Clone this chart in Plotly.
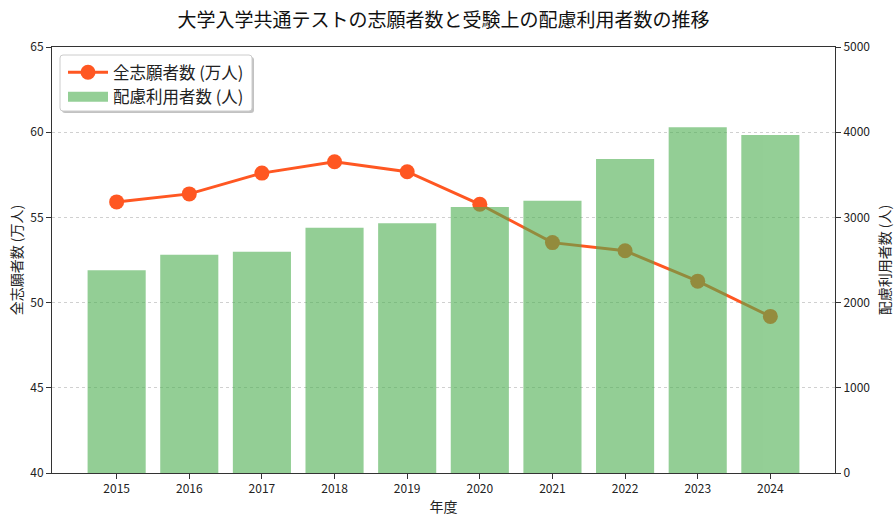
import plotly.graph_objects as go

years = [2015, 2016, 2017, 2018, 2019, 2020, 2021, 2022, 2023, 2024]
applicants_10k = [55.91, 56.38, 57.60, 58.27, 57.68, 55.77, 53.52, 53.04, 51.26, 49.19]
accommodation_users = [2379, 2562, 2598, 2879, 2930, 3122, 3196, 3685, 4057, 3967]

title_text = "大学入学共通テストの志願者数と受験上の配慮利用者数の推移"
line_name = "全志願者数 (万人)"
bar_name = "配慮利用者数 (人)"
x_title = "年度"
y1_title = "全志願者数 (万人)"
y2_title = "配慮利用者数 (人)"

FONT = "Noto Sans CJK JP"
W, H = 896, 523
L, R, T, B = 52, 61, 47, 50
pw = W - L - R
ph = H - T - B


def px_x(p):
    return (p - L) / pw


def px_y(p):
    return 1 - (p - T) / ph


def rounded_rect(x0, y0, x1, y1, r):
    # pixel coords -> paper-coord SVG path with rounded corners
    X = px_x
    Y = px_y
    return (
        f"M{X(x0 + r)},{Y(y0)} L{X(x1 - r)},{Y(y0)} Q{X(x1)},{Y(y0)} {X(x1)},{Y(y0 + r)} "
        f"L{X(x1)},{Y(y1 - r)} Q{X(x1)},{Y(y1)} {X(x1 - r)},{Y(y1)} "
        f"L{X(x0 + r)},{Y(y1)} Q{X(x0)},{Y(y1)} {X(x0)},{Y(y1 - r)} "
        f"L{X(x0)},{Y(y0 + r)} Q{X(x0)},{Y(y0)} {X(x0 + r)},{Y(y0)} Z"
    )


fig = go.Figure()
fig.add_trace(go.Scatter(
    x=years, y=applicants_10k, name=line_name, mode="lines+markers",
    line=dict(color="#FF5722", width=3),
    marker=dict(color="#FF5722", size=15),
    yaxis="y",
))
# legend entry for the bars (wide rectangle like the reference)
fig.add_trace(go.Scatter(
    x=[None], y=[None], name=bar_name, mode="lines",
    line=dict(color="rgba(76,175,80,0.6)", width=11),
    yaxis="y", hoverinfo="skip",
))
fig.add_trace(go.Bar(
    x=years, y=accommodation_users, name=bar_name,
    marker=dict(color="#4CAF50", line=dict(width=0)),
    opacity=0.6, width=0.8, showlegend=False,
    yaxis="y2",
))

axis_common = dict(
    showline=True, linecolor="#333333", linewidth=1,
    ticks="outside", ticklen=5, tickcolor="#333333", tickwidth=1,
    tickfont=dict(family=FONT, size=12, color="#222222"),
    zeroline=False, automargin=False,
)

fig.update_layout(
    width=W, height=H,
    margin=dict(l=L, r=R, t=T, b=B, pad=0, autoexpand=False),
    paper_bgcolor="white", plot_bgcolor="white",
    font=dict(family=FONT, color="#222222"),
    title=dict(text=title_text, x=0.5, xanchor="center", y=1 - 20 / H, yanchor="middle",
               xref="paper", yref="container",
               font=dict(family=FONT, size=19, color="#111111")),
    xaxis=dict(
        range=[2014.11, 2024.89], tickvals=years, ticktext=[str(y) for y in years],
        mirror=True, showgrid=False,
        title=dict(text=x_title, font=dict(family=FONT, size=14, color="#222222"), standoff=6),
        **axis_common,
    ),
    yaxis=dict(
        range=[40, 65], tickvals=[40, 45, 50, 55, 60, 65],
        showgrid=True, gridcolor="#d0d0d0", griddash="dot", gridwidth=1,
        title=dict(text=y1_title, font=dict(family=FONT, size=14, color="#222222"), standoff=4),
        **axis_common,
    ),
    yaxis2=dict(
        range=[0, 5000], tickvals=[0, 1000, 2000, 3000, 4000, 5000],
        overlaying="y", side="right", showgrid=False,
        title=dict(text=y2_title, font=dict(family=FONT, size=14, color="#222222"), standoff=10),
        **axis_common,
    ),
    legend=dict(
        x=px_x(63), y=px_y(55), xanchor="left", yanchor="top",
        bgcolor="rgba(0,0,0,0)", borderwidth=0,
        font=dict(family=FONT, size=16.5, color="#222222"),
        itemwidth=40, tracegroupgap=0,
    ),
    showlegend=True,
)

# legend frame with soft drop shadow
fig.add_shape(type="path", xref="paper", yref="paper", layer="above",
              path=rounded_rect(62, 57, 254, 113, 3),
              fillcolor="rgba(120,120,120,0.45)", line=dict(width=0))
fig.add_shape(type="path", xref="paper", yref="paper", layer="above",
              path=rounded_rect(60, 55, 252, 111, 3),
              fillcolor="white", line=dict(color="#cccccc", width=1))

fig.write_html("out.html")
